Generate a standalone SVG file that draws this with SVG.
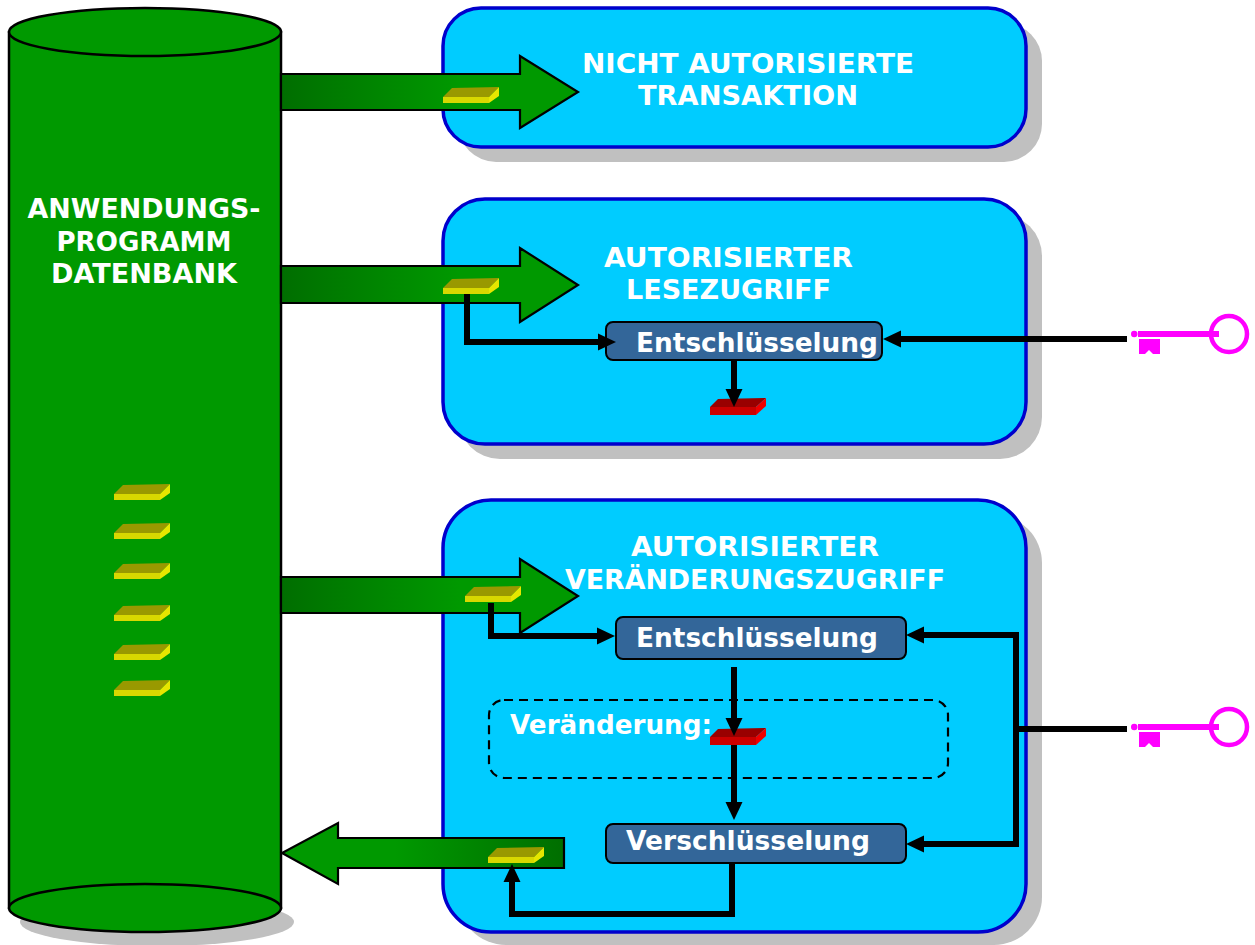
<svg xmlns="http://www.w3.org/2000/svg" width="1255" height="945" viewBox="0 0 1255 945">
<style>
text{font-family:"DejaVu Sans","Liberation Sans",sans-serif;font-weight:bold;fill:#fff;font-size:27px;text-anchor:middle}
.shadow{fill:#c0c0c0}
.panel{fill:#00ccff;stroke:#0000cc;stroke-width:3.500}
.box{fill:#336699;stroke:#000;stroke-width:2}
.arrow{stroke:#000;stroke-width:2.200;fill:url(#ag)}
.cyl{fill:#009900;stroke:#000;stroke-width:2.500}
.wire{fill:none;stroke:#000;stroke-width:6;stroke-linejoin:miter}
.key{fill:#ff00ff}
</style>
<defs>
<linearGradient id="ag" x1="0" y1="0" x2="1" y2="0"><stop offset="0" stop-color="#006e00"/><stop offset="0.6" stop-color="#009900"/></linearGradient>
<linearGradient id="ag2" x1="1" y1="0" x2="0" y2="0"><stop offset="0" stop-color="#006e00"/><stop offset="0.6" stop-color="#009900"/></linearGradient>
<marker id="ah" markerUnits="userSpaceOnUse" markerWidth="20" markerHeight="18" refX="1" refY="9" orient="auto"><path d="M0,0.500L18,9L0,17.500Z" fill="#000"/></marker>
<g id="gold">
<path d="M0,10L9,1L56,0L46,10Z" fill="#999900"/>
<path d="M0,10H46V16H0Z" fill="#d8d800"/>
<path d="M46,10L56,0V9L46,16Z" fill="#e6e600"/>
</g>
<g id="red">
<path d="M0,9L8,1L56,0L46,9Z" fill="#990000"/>
<path d="M0,9H46V17H0Z" fill="#cc0000"/>
<path d="M46,9L56,0V8L46,17Z" fill="#ee0000"/>
</g>
<g id="keyshape">
<circle cx="98" cy="24" r="18" fill="none" stroke="#ff00ff" stroke-width="4.500"/>
<path class="key" d="M7,21H88V27H7ZM0,24a3.200,3.200 0 1 0 6.500,0a3.200,3.200 0 1 0 -6.500,0Z"/>
<path class="key" d="M8,29H29V44H22L18,40L14,44H8Z"/>
</g>
</defs>

<g id="cylinder">
<ellipse class="shadow" cx="157" cy="922" rx="137" ry="24"/>
<path class="cyl" d="M9,32V908H281V32Z"/>
<ellipse class="cyl" cx="145" cy="32" rx="136" ry="24"/>
<ellipse class="cyl" cx="145" cy="908" rx="136" ry="24"/>
<text x="144" y="218" textLength="233" lengthAdjust="spacingAndGlyphs">ANWENDUNGS-</text>
<text x="144" y="251" textLength="175" lengthAdjust="spacingAndGlyphs">PROGRAMM</text>
<text x="144" y="283" textLength="186" lengthAdjust="spacingAndGlyphs">DATENBANK</text>
<use href="#gold" x="114" y="484"/>
<use href="#gold" x="114" y="523"/>
<use href="#gold" x="114" y="563"/>
<use href="#gold" x="114" y="605"/>
<use href="#gold" x="114" y="644"/>
<use href="#gold" x="114" y="680"/>
</g>

<g id="panel1">
<rect class="shadow" x="458" y="23" width="584" height="139" rx="38"/>
<rect class="panel" x="443" y="8" width="583" height="139" rx="38"/>
<text x="748" y="73" textLength="332" lengthAdjust="spacingAndGlyphs">NICHT AUTORISIERTE</text>
<text x="748" y="105" textLength="220" lengthAdjust="spacingAndGlyphs">TRANSAKTION</text>
</g>
<g id="panel2">
<rect class="shadow" x="458" y="214" width="584" height="245" rx="42"/>
<rect class="panel" x="443" y="199" width="583" height="245" rx="42"/>
<text x="728.500" y="267" textLength="249" lengthAdjust="spacingAndGlyphs">AUTORISIERTER</text>
<text x="728.500" y="299" textLength="205" lengthAdjust="spacingAndGlyphs">LESEZUGRIFF</text>
</g>
<g id="panel3">
<rect class="shadow" x="458" y="515" width="584" height="430" rx="48"/>
<rect class="panel" x="443" y="500" width="583" height="432" rx="48"/>
<text x="755" y="556" textLength="248" lengthAdjust="spacingAndGlyphs">AUTORISIERTER</text>
<text x="755" y="589" textLength="380" lengthAdjust="spacingAndGlyphs">VERÄNDERUNGSZUGRIFF</text>
</g>

<g id="change">
<rect x="489" y="700" width="459" height="78" rx="15" fill="none" stroke="#000" stroke-width="2.200" stroke-dasharray="9 6"/>
<text x="611" y="734" textLength="202" lengthAdjust="spacingAndGlyphs">Veränderung:</text>
</g>

<g id="flow-arrows">
<path class="arrow" d="M281,74H520V56L578,92L520,128V110H281Z"/>
<path class="arrow" d="M281,266H520V248L578,285L520,322V303H281Z"/>
<path class="arrow" d="M281,577H520V559L578,596L520,633V613H281Z"/>
<path class="arrow" style="fill:url(#ag2)" d="M564,838H338V823L282,853L338,884V868H564Z"/>
</g>

<g id="box1"><rect class="box" x="606" y="322" width="276" height="38" rx="7"/><text x="757" y="352" textLength="242" lengthAdjust="spacingAndGlyphs">Entschlüsselung</text></g>
<g id="box2"><rect class="box" x="616" y="617" width="290" height="42" rx="7"/><text x="757" y="647" textLength="242" lengthAdjust="spacingAndGlyphs">Entschlüsselung</text></g>
<g id="box3"><rect class="box" x="606" y="824" width="300" height="39" rx="7"/><text x="748" y="850" textLength="244" lengthAdjust="spacingAndGlyphs">Verschlüsselung</text></g>

<g id="items">
<use href="#gold" x="443" y="87"/>
<use href="#gold" x="443" y="278"/>
<use href="#gold" x="465" y="586"/>
<use href="#gold" x="488" y="847"/>
<use href="#red" x="710" y="398"/>
<use href="#red" x="710" y="728"/>
</g>

<g id="connectors">
<path class="wire" d="M467,294V342H599" marker-end="url(#ah)"/>
<path class="wire" d="M1127,339H900" marker-end="url(#ah)"/>
<path class="wire" d="M734,360V390" marker-end="url(#ah)"/>
<path class="wire" d="M491,603V636H598" marker-end="url(#ah)"/>
<path class="wire" d="M1016,729V635H923" marker-end="url(#ah)"/>
<path class="wire" d="M1016,729V844H923" marker-end="url(#ah)"/>
<path class="wire" d="M1127,729H1016"/>
<path class="wire" d="M734,667V719" marker-end="url(#ah)"/>
<path class="wire" d="M734,745V803" marker-end="url(#ah)"/>
<path class="wire" d="M732,863V914H512V881" marker-end="url(#ah)"/>
</g>

<g id="key1"><use href="#keyshape" x="1131" y="310"/></g>
<g id="key2"><use href="#keyshape" x="1131" y="703"/></g>
</svg>
